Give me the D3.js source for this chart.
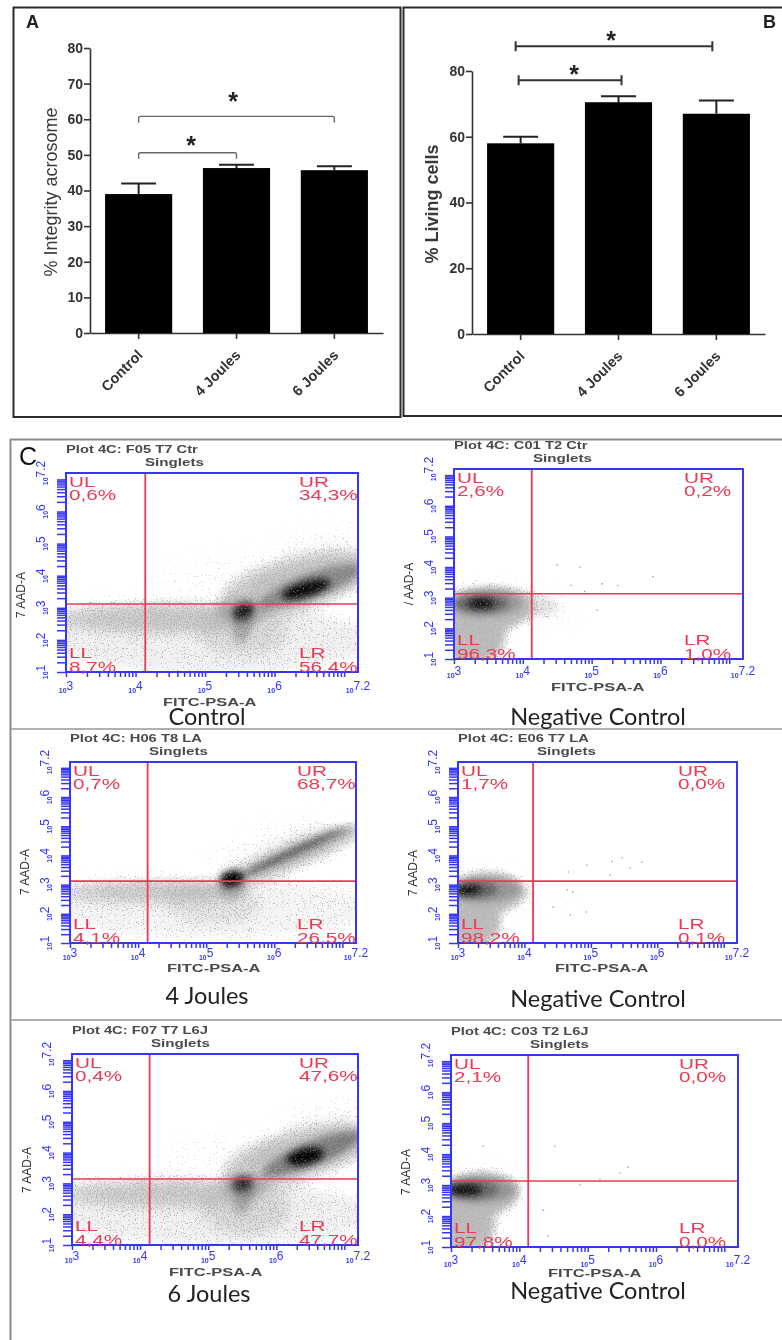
<!DOCTYPE html>
<html>
<head>
<meta charset="utf-8">
<title>Acrosome integrity and viability</title>
<script src="https://cdn.jsdelivr.net/npm/d3@7"></script>
<style>
  html, body { margin: 0; padding: 0; background: #fff; }
  svg { display: block; filter: blur(0.55px); }
  text { font-family: "Liberation Sans", Arial, sans-serif; }
  .caption { font-family: Lato, "Open Sans", sans-serif; font-size: 23.5px; fill: #222; text-anchor: middle; }
</style>
</head>
<body>
<script>
// bar charts
const barCategories = ["Control", "4 Joules", "6 Joules"];
const integrityMeans = [39, 46.3, 45.7];
const integrityTops = [42, 47.2, 46.8];
const integrityTicks = [0, 10, 20, 30, 40, 50, 60, 70, 80];
const livingMeans = [58, 70.5, 67];
const livingTops = [60, 72.3, 71];
const livingTicks = [0, 20, 40, 60, 80];

// flow cytometry plots, one entry per plot
const plotTitles = ["Plot 4C: F05 T7 Ctr", "Plot 4C: C01 T2 Ctr", "Plot 4C: H06 T8 LA", "Plot 4C: E06 T7 LA", "Plot 4C: F07 T7 L6J", "Plot 4C: C03 T2 L6J"];
const plotCaptions = ["Control", "Negative Control", "4 Joules", "Negative Control", "6 Joules", "Negative Control"];
const yAxisNames = ["7 AAD-A", "/ AAD-A", "7 AAD-A", "7 AAD-A", "7 AAD-A", "7 AAD-A"];
const quadrantUL = ["0,6%", "2,6%", "0,7%", "1,7%", "0,4%", "2,1%"];
const quadrantUR = ["34,3%", "0,2%", "68,7%", "0,0%", "47,6%", "0,0%"];
const quadrantLL = ["8,7%", "96,3%", "4,1%", "98,2%", "4,4%", "97,8%"];
const quadrantLR = ["56,4%", "1,0%", "26,5%", "0,1%", "47,7%", "0,0%"];
const gateX = [4.14, 4.13, 4.14, 4.13, 4.14, 4.13];
const gateY = [3.12, 3.13, 3.12, 3.12, 3.14, 3.13];
const xExponents = [3, 4, 5, 6, 7.2];
const yExponents = [1, 2, 3, 4, 5, 6, 7.2];

// density: [x0, y0, x1, y1, half thickness, weight], axes in decades
const hazeClouds = [
  [[2.6,2.0,7.6,2.0,1.1,.32],[2.8,2.75,5.8,2.7,.5,.55],[4.9,2.3,6.2,2.3,.8,.3],[5.2,3.1,7.5,4.4,.85,.6],[5.6,3.4,7.5,4.4,.5,.35],[4.2,3.7,6.2,4.3,.6,.16],[6,4.7,7.4,5.3,.5,.18]],
  [[2.8,2.6,4.15,2.7,.72,1],[2.8,1.5,3.75,1.7,.75,.95],[3.6,2.9,4.5,2.7,.45,.4],[4.2,2.7,4.8,2.5,.45,.18]],
  [[2.6,2.1,7.6,2.2,1.1,.28],[2.8,2.8,5.6,2.8,.42,.55],[4.4,2.4,5.8,2.3,.7,.25],[5.3,3.1,7.4,5.0,.5,.6],[5.0,3.6,6.9,5.1,.7,.18]],
  [[2.8,2.6,4.0,2.8,.72,1],[2.8,1.5,3.65,1.7,.75,.95],[3.6,2.9,4.1,2.7,.4,.4],[4.1,2.6,4.7,2.6,.35,.1]],
  [[2.6,2.0,7.6,2.0,1.1,.32],[2.8,2.75,5.8,2.7,.5,.52],[4.9,2.2,6.2,2.2,.85,.34],[5.2,3.2,7.5,4.6,.85,.6],[5.6,3.6,7.5,4.7,.5,.35],[4.2,3.7,6.2,4.4,.6,.16],[6,4.9,7.4,5.5,.5,.18]],
  [[2.8,2.6,4.0,2.8,.72,1],[2.8,1.5,3.65,1.7,.75,.95],[3.6,2.9,4.05,2.8,.4,.4]]
];
const coreClouds = [
  [[5.4,2.75,5.7,3.05,.24,.8],[5.5,1.9,5.6,3.2,.3,.22],[6.1,3.35,6.8,3.8,.24,.95],[5.8,3.1,7.25,4.25,.4,.3],[5.15,2.9,5.95,2.95,.42,.12]],
  [[2.95,2.8,4,2.85,.42,.2],[3,2.8,3.8,2.82,.3,.35],[3.2,2.8,3.6,2.82,.17,.9]],
  [[5.2,3.1,5.55,3.3,.28,1],[5.5,3.3,7.05,4.95,.05,1],[5.5,3.25,7.2,5,.25,.2],[5.2,2.7,5.6,3.1,.4,.15]],
  [[2.9,2.8,3.95,2.85,.42,.2],[2.9,2.8,3.6,2.85,.3,.35],[2.95,2.8,3.35,2.85,.17,.9]],
  [[5.35,2.9,5.65,3.1,.24,.7],[5.45,2,5.6,3.2,.3,.2],[6.15,3.75,6.7,4,.27,1],[5.8,3.3,7.25,4.6,.4,.36],[5.2,2.9,5.9,3,.42,.12]],
  [[2.9,2.85,3.95,2.85,.42,.2],[2.9,2.85,3.7,2.85,.3,.35],[2.95,2.85,3.45,2.85,.18,.9]]
];
const strayEvents = [
  [],
  [[4.5,4.07],[4.83,4],[5.89,3.68],[5.15,3.45],[5.38,3.4],[5.08,2.6],[4.9,3.2],[4.7,3.4]],
  [],
  [[4.94,3.67],[5.32,3.8],[5.77,3.77],[5.47,3.91],[5.59,3.57],[4.66,3.43],[5.29,3.33],[4.69,1.96],[4.93,2.06],[4.43,2.23],[4.64,2.82],[4.73,2.75]],
  [],
  [[3.47,4.26],[4.52,4.26],[5.59,3.58],[5.47,3.39],[5.18,3.19],[4.35,2.19],[4.42,1.35],[4.89,3]]
];

// where each plot box sits on the page
const plotBoxes = [
  { left: 66, right: 358, top: 473, bottom: 672, tickDy: 21, nameDy: 34, axisDy: -77, capX: 207, capY: 725 },
  { left: 454, right: 743, top: 469, bottom: 659, tickDy: 19, nameDy: 32, axisDy: -75, capX: 598, capY: 725 },
  { left: 70, right: 356, top: 762, bottom: 943, tickDy: 17, nameDy: 29, axisDy: -71, capX: 207, capY: 1004 },
  { left: 458, right: 737, top: 762, bottom: 943, tickDy: 17, nameDy: 29, axisDy: -70, capX: 598, capY: 1007 },
  { left: 72, right: 358, top: 1054, bottom: 1245, tickDy: 18, nameDy: 31, axisDy: -75, capX: 209, capY: 1302 },
  { left: 451, right: 738, top: 1055, bottom: 1247, tickDy: 20, nameDy: 30, axisDy: -75, capX: 598, capY: 1299 }
];

const blue = "#3636fa";
const red = "#ea3a55";

const svg = d3.select("body").append("svg")
  .attr("width", 782)
  .attr("height", 1340)
  .style("background", "#fff");

const defs = svg.append("defs");

function pageFilter(id) {
  return defs.append("filter").attr("id", id)
    .attr("filterUnits", "userSpaceOnUse")
    .attr("x", 0).attr("y", 0).attr("width", 782).attr("height", 1340)
    .attr("color-interpolation-filters", "sRGB");
}

// flat light grey where the events are dense
const wash = pageFilter("wash");
wash.append("feGaussianBlur").attr("in", "SourceGraphic").attr("stdDeviation", 6).attr("result", "soft");
wash.append("feColorMatrix").attr("in", "soft").attr("type", "matrix")
  .attr("values", "0 0 0 0 0.77  0 0 0 0 0.77  0 0 0 0 0.77  0 0 0 1.5 -0.25");

// speckle: blurred density minus noise, pushed to a hard edge, gives the dotted look
const grain = pageFilter("grain");
grain.append("feGaussianBlur").attr("in", "SourceGraphic").attr("stdDeviation", 7).attr("result", "soft");
grain.append("feTurbulence").attr("type", "fractalNoise").attr("baseFrequency", 0.85).attr("numOctaves", 2).attr("seed", 4).attr("result", "noise");
grain.append("feColorMatrix").attr("in", "noise").attr("type", "matrix")
  .attr("values", "0 0 0 0 0  0 0 0 0 0  0 0 0 0 0  2.4 0 0 0 -0.8").attr("result", "noiseAlpha");
grain.append("feComposite").attr("in", "soft").attr("in2", "noiseAlpha").attr("operator", "arithmetic")
  .attr("k1", 0).attr("k2", 1).attr("k3", 1).attr("k4", -1).attr("result", "diff");
grain.append("feColorMatrix").attr("in", "diff").attr("type", "matrix")
  .attr("values", "0 0 0 0 0.72  0 0 0 0 0.72  0 0 0 0 0.72  0 0 0 4 0");

// dark centres, blurred and mottled a little
const core = pageFilter("coreBlur");
core.append("feGaussianBlur").attr("in", "SourceGraphic").attr("stdDeviation", 3.5).attr("result", "soft");
core.append("feTurbulence").attr("type", "fractalNoise").attr("baseFrequency", 0.6).attr("numOctaves", 2).attr("seed", 9).attr("result", "noise");
core.append("feColorMatrix").attr("in", "noise").attr("type", "matrix")
  .attr("values", "0 0 0 0 0  0 0 0 0 0  0 0 0 0 0  1.6 0 0 0 0.25").attr("result", "noiseAlpha");
core.append("feComposite").attr("in", "soft").attr("in2", "noiseAlpha").attr("operator", "arithmetic")
  .attr("k1", 1).attr("k2", 0).attr("k3", 0).attr("k4", 0);

// text that is stretched sideways, the scan has it wider than any font here
function wideText(parent, x, y, label, size, stretch, fill, weight) {
  return parent.append("text")
    .attr("transform", "translate(" + x + "," + y + ") scale(" + stretch + ",1)")
    .attr("font-size", size)
    .attr("font-weight", weight || "normal")
    .attr("fill", fill)
    .text(label);
}

function drawBars(opts) {
  const x = d3.scaleBand().domain(barCategories)
    .range([opts.left, opts.right]).paddingInner(0.314).paddingOuter(0.154);
  const y = d3.scaleLinear().domain([0, 80]).range([opts.zero, opts.full]);
  const g = svg.append("g");

  const yAxis = g.append("g")
    .attr("transform", "translate(" + opts.left + ",0)")
    .call(d3.axisLeft(y).tickValues(opts.ticks).tickSize(6).tickSizeOuter(0).tickPadding(1));
  const xAxis = g.append("g")
    .attr("transform", "translate(0," + opts.zero + ")")
    .call(d3.axisBottom(x).tickSize(6).tickSizeOuter(0));
  g.selectAll(".domain, .tick line").attr("stroke", "#333").attr("stroke-width", 1.6);
  yAxis.selectAll("text").attr("font-size", 14).attr("font-weight", "bold").attr("fill", "#333").attr("font-family", "Liberation Sans");
  xAxis.selectAll("text")
    .attr("font-size", 14.5).attr("font-weight", "bold").attr("fill", "#333").attr("font-family", "Liberation Sans")
    .attr("text-anchor", "end")
    .attr("dx", 0).attr("dy", 0)
    .attr("y", 0)
    .attr("transform", "translate(5,23) rotate(-45)");

  // error bars go first so the cap stem meets the bar
  const err = g.selectAll(".err").data(barCategories).enter().append("g").attr("class", "err");
  err.append("line")
    .attr("x1", d => x(d) + x.bandwidth() / 2).attr("x2", d => x(d) + x.bandwidth() / 2)
    .attr("y1", (d, i) => y(opts.means[i])).attr("y2", (d, i) => y(opts.tops[i]))
    .attr("stroke", "#222").attr("stroke-width", 2);
  err.append("line")
    .attr("x1", d => x(d) + x.bandwidth() * 0.24).attr("x2", d => x(d) + x.bandwidth() * 0.76)
    .attr("y1", (d, i) => y(opts.tops[i])).attr("y2", (d, i) => y(opts.tops[i]))
    .attr("stroke", "#222").attr("stroke-width", 2);

  g.selectAll(".bar").data(barCategories).enter().append("rect")
    .attr("class", "bar")
    .attr("x", d => x(d))
    .attr("width", x.bandwidth())
    .attr("y", (d, i) => y(opts.means[i]))
    .attr("height", (d, i) => opts.zero - y(opts.means[i]))
    .attr("fill", "#000");

  g.append("text")
    .attr("transform", "translate(" + opts.labelX + "," + opts.labelY + ") rotate(-90)")
    .attr("text-anchor", "middle")
    .attr("font-size", 18)
    .attr("font-weight", opts.labelWeight)
    .attr("fill", "#3a3a3a")
    .text(opts.label);
  return { g: g, x: x, y: y };
}

// panel frames
svg.append("rect").attr("x", 13.5).attr("y", 7.5).attr("width", 387).attr("height", 409.5)
  .attr("fill", "none").attr("stroke", "#2b2b2b").attr("stroke-width", 2);
svg.append("rect").attr("x", 403.5).attr("y", 7.5).attr("width", 400).attr("height", 408.5)
  .attr("fill", "none").attr("stroke", "#2b2b2b").attr("stroke-width", 2);
svg.append("path").attr("d", "M782,439.5H10.5V1340").attr("fill", "none").attr("stroke", "#8c8c8c").attr("stroke-width", 2);
svg.append("line").attr("x1", 11).attr("x2", 782).attr("y1", 729).attr("y2", 729).attr("stroke", "#b0b0b0").attr("stroke-width", 2);
svg.append("line").attr("x1", 11).attr("x2", 782).attr("y1", 1020).attr("y2", 1020).attr("stroke", "#b0b0b0").attr("stroke-width", 2);

const panelA = drawBars({
  left: 90, right: 383, zero: 333, full: 48,
  means: integrityMeans, tops: integrityTops, ticks: integrityTicks,
  label: "% Integrity acrosome", labelX: 57, labelY: 192, labelWeight: "normal"
});
const panelB = drawBars({
  left: 472, right: 765, zero: 334, full: 71,
  means: livingMeans, tops: livingTops, ticks: livingTicks,
  label: "% Living cells", labelX: 438, labelY: 204, labelWeight: "bold"
});

// significance brackets, from one bar to another at a level on the value axis
function bracketA(panel, from, to, level) {
  const x0 = panel.x(from) + panel.x.bandwidth() / 2, x1 = panel.x(to) + panel.x.bandwidth() / 2;
  const yy = panel.y(level);
  panel.g.append("path")
    .attr("d", "M" + x0 + "," + (yy + 6) + "V" + (yy + 1.5) + "Q" + x0 + "," + yy + " " + (x0 + 1.5) + "," + yy +
      "H" + (x1 - 1.5) + "Q" + x1 + "," + yy + " " + x1 + "," + (yy + 1.5) + "V" + (yy + 6))
    .attr("fill", "none").attr("stroke", "#666").attr("stroke-width", 1.4);
}
function bracketB(panel, from, to, level, shift0, shift1) {
  const x0 = panel.x(from) + panel.x.bandwidth() / 2 + shift0, x1 = panel.x(to) + panel.x.bandwidth() / 2 + shift1;
  const yy = panel.y(level);
  panel.g.append("path")
    .attr("d", "M" + x0 + "," + (yy - 5) + "V" + (yy + 5) + "M" + x0 + "," + yy + "H" + x1 + "M" + x1 + "," + (yy - 5) + "V" + (yy + 5))
    .attr("fill", "none").attr("stroke", "#333").attr("stroke-width", 2);
}
function star(x, y) {
  svg.append("text").attr("x", x).attr("y", y).attr("text-anchor", "middle")
    .attr("font-size", 25).attr("font-weight", "bold").attr("fill", "#222").text("*");
}
bracketA(panelA, "Control", "6 Joules", 60.8);
bracketA(panelA, "Control", "4 Joules", 50.6);
star(233, 110);
star(191, 154);
bracketB(panelB, "Control", "6 Joules", 87.5, -5, -4);
bracketB(panelB, "Control", "4 Joules", 77.2, -2, 3);
star(611, 49);
star(574, 83);

// panel letters
svg.append("text").attr("x", 26).attr("y", 28).attr("font-size", 18).attr("font-weight", "bold").attr("fill", "#222").text("A");
svg.append("text").attr("x", 763).attr("y", 28).attr("font-size", 18).attr("font-weight", "bold").attr("fill", "#222").text("B");
svg.append("text").attr("x", 19).attr("y", 465).attr("font-size", 25).attr("font-family", "Lato").attr("fill", "#111").text("C");

function drawFlowPlot(i) {
  const box = plotBoxes[i];
  const x = d3.scaleLog().domain([1e3, Math.pow(10, 7.2)]).range([box.left, box.right]);
  const y = d3.scaleLog().domain([10, Math.pow(10, 7.2)]).range([box.bottom, box.top]);
  const g = svg.append("g");

  const clipId = "box" + i;
  defs.append("clipPath").attr("id", clipId).append("rect")
    .attr("x", box.left).attr("y", box.top)
    .attr("width", box.right - box.left).attr("height", box.bottom - box.top);
  const inner = g.append("g").attr("clip-path", "url(#" + clipId + ")");

  // one ellipse per cloud, laid between its two end points on the log axes
  function ellipses(layer, clouds) {
    layer.selectAll("ellipse").data(clouds).enter().append("ellipse")
      .attr("transform", d => {
        const ax = x(Math.pow(10, d[0])), ay = y(Math.pow(10, d[1]));
        const bx = x(Math.pow(10, d[2])), by = y(Math.pow(10, d[3]));
        const angle = Math.atan2(by - ay, bx - ax) * 180 / Math.PI;
        return "translate(" + (ax + bx) / 2 + "," + (ay + by) / 2 + ") rotate(" + angle + ")";
      })
      .attr("rx", d => {
        const ax = x(Math.pow(10, d[0])), ay = y(Math.pow(10, d[1]));
        const bx = x(Math.pow(10, d[2])), by = y(Math.pow(10, d[3]));
        return Math.hypot(bx - ax, by - ay) / 2;
      })
      .attr("ry", d => y(Math.pow(10, 3)) - y(Math.pow(10, 3 + d[4])))
      .attr("fill", "#000")
      .attr("fill-opacity", d => d[5]);
  }
  ellipses(inner.append("g").attr("filter", "url(#wash)"), hazeClouds[i]);
  ellipses(inner.append("g").attr("filter", "url(#grain)"), hazeClouds[i]);
  ellipses(inner.append("g").attr("filter", "url(#coreBlur)"), coreClouds[i]);

  inner.selectAll("circle").data(strayEvents[i]).enter().append("circle")
    .attr("cx", d => x(Math.pow(10, d[0])))
    .attr("cy", d => y(Math.pow(10, d[1])))
    .attr("r", 0.8)
    .attr("fill", "#999");

  // gates
  g.append("line").attr("x1", x(Math.pow(10, gateX[i]))).attr("x2", x(Math.pow(10, gateX[i])))
    .attr("y1", box.top).attr("y2", box.bottom).attr("stroke", red).attr("stroke-width", 1.8);
  g.append("line").attr("x1", box.left).attr("x2", box.right)
    .attr("y1", y(Math.pow(10, gateY[i]))).attr("y2", y(Math.pow(10, gateY[i])))
    .attr("stroke", red).attr("stroke-width", 1.6);

  // log axes, the ticks come from the scales
  const xAxis = g.append("g").attr("transform", "translate(0," + box.bottom + ")")
    .call(d3.axisBottom(x).tickValues(x.ticks()).tickFormat("").tickSize(5).tickSizeOuter(0));
  const yAxis = g.append("g").attr("transform", "translate(" + box.left + ",0)")
    .call(d3.axisLeft(y).tickValues(y.ticks()).tickFormat("").tickSize(9).tickSizeOuter(0));
  xAxis.selectAll("line").attr("stroke", blue).attr("stroke-width", 1.5);
  yAxis.selectAll("line").attr("stroke", blue).attr("stroke-width", 1.5);
  xAxis.select(".domain").remove();
  yAxis.select(".domain").remove();
  g.append("rect").attr("x", box.left).attr("y", box.top)
    .attr("width", box.right - box.left).attr("height", box.bottom - box.top)
    .attr("fill", "none").attr("stroke", blue).attr("stroke-width", 2);

  function expLabel(sel, e) {
    sel.append("tspan").attr("font-size", 7).attr("font-weight", "bold").text("10");
    sel.append("tspan").attr("font-size", 12).attr("dy", -3).text(e);
  }
  xExponents.forEach(e => {
    const t = g.append("text")
      .attr("x", x(Math.pow(10, e))).attr("y", box.bottom + box.tickDy)
      .attr("text-anchor", "middle").attr("fill", blue);
    expLabel(t, e);
  });
  yExponents.forEach(e => {
    const t = g.append("text")
      .attr("transform", "translate(" + (box.left - 18) + "," + y(Math.pow(10, e)) + ") rotate(-90)")
      .attr("text-anchor", "middle").attr("fill", blue);
    expLabel(t, e);
  });

  // quadrant labels
  const redLabels = [
    [box.left + 3, box.top + 14, "UL", box.top + 27, quadrantUL[i]],
    [box.right - 59, box.top + 14, "UR", box.top + 27, quadrantUR[i]],
    [box.left + 3, box.bottom - 14, "LL", box.bottom, quadrantLL[i]],
    [box.right - 59, box.bottom - 14, "LR", box.bottom, quadrantLR[i]]
  ];
  redLabels.forEach(r => {
    wideText(g, r[0], r[1], r[2], 15, 1.38, red);
    wideText(g, r[0], r[3], r[4], 15, 1.38, red);
  });

  // titles and axis names
  wideText(g, box.left, box.top - 20, plotTitles[i], 11, 1.34, "#4a4a4a", "bold");
  wideText(g, box.left + 79, box.top - 7, "Singlets", 11, 1.38, "#4a4a4a", "bold");
  wideText(g, box.left + 97, box.bottom + box.nameDy, "FITC-PSA-A", 11, 1.5, "#4a4a4a", "bold");
  g.append("text")
    .attr("transform", "translate(" + (box.left - 41) + "," + (box.bottom + box.axisDy) + ") rotate(-90)")
    .attr("text-anchor", "middle")
    .attr("font-size", 12)
    .attr("fill", "#333")
    .text(yAxisNames[i]);
  g.append("text").attr("class", "caption")
    .attr("x", box.capX).attr("y", box.capY).text(plotCaptions[i]);
}

plotBoxes.forEach((box, i) => drawFlowPlot(i));
</script>
</body>
</html>
